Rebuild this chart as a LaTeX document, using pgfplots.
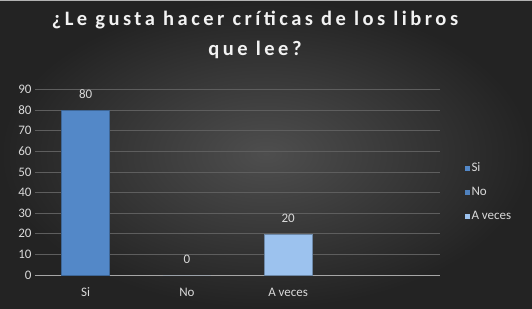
\documentclass[border=0pt]{standalone}
\usepackage{fontspec}
\setmainfont{Carlito}
\usepackage{pgfplots}
\pgfplotsset{compat=1.18}
\definecolor{bgin}{HTML}{4E4E4E}
\definecolor{bgout}{HTML}{232323}
\definecolor{gridc}{HTML}{5E5E5E}
\definecolor{axisc}{HTML}{A6A6A6}
\definecolor{labelc}{HTML}{D9D9D9}
\definecolor{titlec}{HTML}{F2F2F2}
\definecolor{siblue}{HTML}{5388C8}
\definecolor{noblue}{HTML}{4F81BD}
\definecolor{avblue}{HTML}{9CC2EE}
\begin{document}
\begin{tikzpicture}
\useasboundingbox (0pt,0pt) rectangle (532pt,308pt);
\shade[inner color=bgin, outer color=bgout] (0pt,0pt) rectangle (532pt,308pt);
\draw[gray!60, line width=0.8pt] (0pt,307.6pt) -- (532pt,307.6pt);
\node[font=\bfseries\fontsize{20.5}{30}\selectfont\addfontfeatures{LetterSpace=17}, text=titlec, align=center] at (255pt,273pt) {¿Le gusta hacer críticas de los libros\\que lee?};
\begin{axis}[
  at={(35pt,33pt)}, anchor=south west,
  scale only axis, width=405pt, height=185.5pt,
  xmin=-0.5, xmax=3.5, ymin=0, ymax=90,
  axis x line*=bottom, axis y line*=left,
  y axis line style={draw=none},
  x axis line style={draw=axisc, line width=0.8pt},
  ytick distance=10,
  ymajorgrids, grid style={gridc, line width=0.6pt},
  major y tick style={draw=none},
  xtick={0,1,2}, xticklabels={Si,No,A veces},
  major x tick style={draw=none},
  extra x ticks={-0.5,0.5,1.5,2.5,3.5},
  extra x tick labels={},
  extra x tick style={tick align=outside, major tick length=4pt, major tick style={draw=axisc, line width=0.8pt}, grid=none},
  /pgf/number format/assume math mode=true,
  tick label style={text=labelc, font=\fontsize{13}{15}\selectfont},
  xticklabel style={yshift=-5pt},
  ybar, bar shift=0pt, bar width=0.475,
  nodes near coords,
  nodes near coords style={text=labelc, font=\fontsize{13}{15}\selectfont, yshift=8pt},
  legend style={at={(1.06,0.447)}, anchor=west, draw=none, fill=none, inner sep=0pt, text=labelc, font=\fontsize{13}{15}\selectfont, row sep=10pt},
  legend cell align=left,
  legend image code/.code={\fill[#1,draw=none] (0pt,-2.5pt) rectangle (5pt,2.5pt);},
]
\addplot[fill=siblue, draw=siblue!75!black] coordinates {(0,80)};
\addplot[fill=noblue, draw=none] coordinates {(1,0)};
\addplot[fill=avblue, draw=avblue!70!black] coordinates {(2,20)};
\legend{Si,No,A veces}
\end{axis}
\end{tikzpicture}
\end{document}
